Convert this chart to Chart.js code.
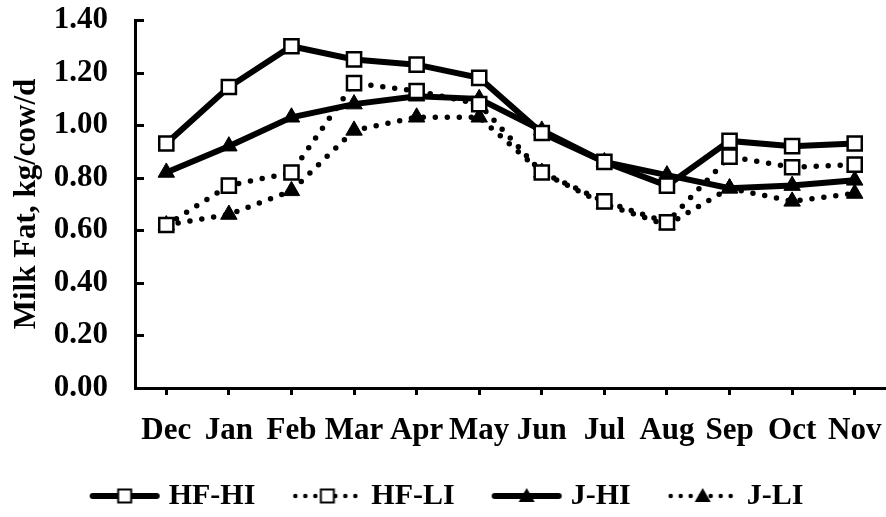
<!DOCTYPE html>
<html>
<head>
<meta charset="utf-8">
<script src="https://cdn.jsdelivr.net/npm/chart.js@4.4.1/dist/chart.umd.min.js"></script>
<style>
  html, body { margin: 0; padding: 0; background: #fff; }
</style>
</head>
<body>
<canvas id="chart" width="886" height="517"></canvas>
<script>
const months = ["Dec", "Jan", "Feb", "Mar", "Apr", "May", "Jun", "Jul", "Aug", "Sep", "Oct", "Nov"];
const hfHi = [0.93, 1.145, 1.30, 1.25, 1.23, 1.18, 0.97, 0.86, 0.77, 0.94, 0.92, 0.93];
const hfLi = [0.62, 0.77, 0.82, 1.16, 1.13, 1.08, 0.82, 0.71, 0.63, 0.88, 0.84, 0.85];
const jHi = [0.82, 0.92, 1.03, 1.08, 1.11, 1.10, 0.98, 0.86, 0.81, 0.76, 0.77, 0.79];
const jLi = [0.62, 0.66, 0.75, 0.98, 1.03, 1.03, 0.82, 0.70, 0.62, 0.76, 0.71, 0.74];

Chart.defaults.font.family = "'Liberation Serif', 'Times New Roman', serif";
Chart.defaults.font.weight = "bold";
Chart.defaults.font.size = 31;
Chart.defaults.color = "#000";

// small line+marker picture used as the legend symbol
function legendSample(dotted, marker) {
  const c = document.createElement("canvas");
  c.width = 96;
  c.height = 24;
  const g = c.getContext("2d");
  const lx = 17, cy = 12, cx = lx + 35;
  g.strokeStyle = "#000";
  g.lineCap = "round";
  if (dotted) {
    g.lineWidth = 4.5;
    g.setLineDash([0, 10]);
    g.beginPath();
    g.moveTo(lx + 3, cy);
    g.lineTo(lx + 66, cy);
    g.stroke();
    g.setLineDash([]);
  } else {
    g.lineWidth = 6;
    g.beginPath();
    g.moveTo(lx + 3, cy);
    g.lineTo(lx + 67, cy);
    g.stroke();
  }
  if (marker === "rect") {
    g.fillStyle = "#fff";
    g.lineWidth = 2;
    g.fillRect(cx - 6.5, cy - 6.5, 13, 13);
    g.strokeRect(cx - 6.5, cy - 6.5, 13, 13);
  } else {
    g.fillStyle = "#000";
    g.beginPath();
    g.moveTo(cx, cy - 8);
    g.lineTo(cx + 8, cy + 6);
    g.lineTo(cx - 8, cy + 6);
    g.closePath();
    g.fill();
  }
  return c;
}

function series(label, data, dotted, marker) {
  return {
    label,
    data,
    borderColor: "#000",
    borderWidth: dotted ? 5.5 : 6,
    borderDash: dotted ? [0, 12] : [],
    borderCapStyle: "round",
    tension: 0,
    pointStyle: marker === "rect" ? "rect" : "triangle",
    pointRadius: marker === "rect" ? 10 : 9.5,
    pointHoverRadius: 10,
    pointBorderWidth: marker === "rect" ? 2.5 : 1,
    pointBorderColor: "#000",
    pointBackgroundColor: marker === "rect" ? "#fff" : "#000",
    legendImg: legendSample(dotted, marker)
  };
}

// y ticks point inward, into the plot
const yTickMarks = {
  id: "yTickMarks",
  beforeDatasetsDraw(chart) {
    const y = chart.scales.y;
    const left = chart.chartArea.left;
    const ctx = chart.ctx;
    ctx.save();
    ctx.strokeStyle = "#000";
    ctx.lineWidth = 3;
    y.ticks.forEach(t => {
      const py = Math.round(y.getPixelForValue(t.value)) + 0.5;
      ctx.beginPath();
      ctx.moveTo(left, py);
      ctx.lineTo(left + 9, py);
      ctx.stroke();
    });
    ctx.restore();
  }
};

new Chart(document.getElementById("chart"), {
  type: "line",
  data: {
    labels: months,
    datasets: [
      series("HF-HI", hfHi, false, "rect"),
      series("HF-LI", hfLi, true, "rect"),
      series("J-HI", jHi, false, "triangle"),
      series("J-LI", jLi, true, "triangle")
    ]
  },
  options: {
    responsive: false,
    animation: false,
    devicePixelRatio: 1,
    layout: { autoPadding: false, padding: { left: 5, top: 20, right: 0, bottom: -4 } },
    plugins: {
      tooltip: { enabled: false },
      legend: {
        position: "bottom",
        labels: {
          usePointStyle: true,
          pointStyleWidth: 66,
          padding: 35,
          font: { size: 30, weight: "bold" },
          generateLabels(chart) {
            return chart.data.datasets.map((ds, i) => ({
              text: ds.label,
              pointStyle: ds.legendImg,
              datasetIndex: i,
              fontColor: "#000",
              lineWidth: 0
            }));
          }
        }
      }
    },
    scales: {
      x: {
        offset: true,
        grid: { display: true, drawOnChartArea: false, drawTicks: true, tickLength: 7, color: "#000", lineWidth: 3 },
        border: { display: true, color: "#000", width: 3 },
        ticks: { autoSkip: false, maxRotation: 0, padding: 17 },
        afterFit(scale) {
          scale.height = 58;
          scale.paddingLeft = 0;
          scale.paddingRight = 0;
        }
      },
      y: {
        min: 0,
        max: 1.4,
        grid: { display: false, drawTicks: false },
        border: { display: true, color: "#000", width: 3 },
        ticks: {
          stepSize: 0.2,
          padding: 27,
          callback: v => v.toFixed(2)
        },
        title: {
          display: true,
          text: "Milk Fat, kg/cow/d",
          padding: { top: 3, bottom: 0 }
        },
        afterFit(scale) {
          scale.width = 130;
          scale.paddingTop = 0;
          scale.paddingBottom = 0;
        }
      }
    }
  },
  plugins: [yTickMarks]
});
</script>
</body>
</html>
